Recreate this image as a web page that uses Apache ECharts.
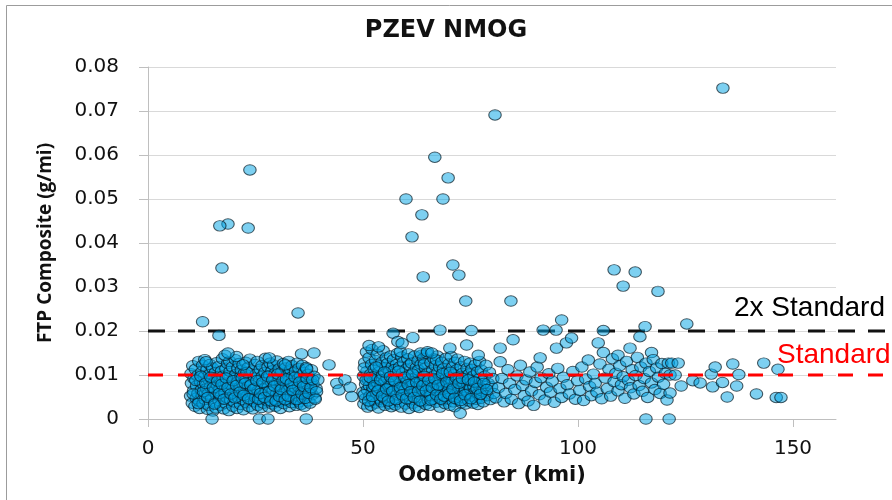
<!DOCTYPE html>
<html><head><meta charset="utf-8">
<script src="https://cdn.jsdelivr.net/npm/echarts@6/dist/echarts.min.js"></script>
<style>html,body{margin:0;padding:0;background:#fff}#c{width:892px;height:500px}</style>
</head><body><div id="c"></div>
<script>
// ---- data ----
const titleText = 'PZEV NMOG';
const xAxisName = 'Odometer (kmi)';
const yAxisName = 'FTP Composite (g/mi)';
const xTickValues = [0, 50, 100, 150];
const STANDARD = 0.01;
const TWO_X_STANDARD = 0.02;

// dense cluster ~10-39 kmi  [odometer kmi, NMOG g/mi]
const clusterLowMileage = [
 [9.9,0.0052],[10.1,0.0081],[10.3,0.0036],[10.0,0.0103],[10.6,0.0064],[10.4,0.0121],[10.9,0.0029],[10.7,0.0092],[11.2,0.0047],[11.0,0.0113],[11.3,0.0075],
 [11.6,0.0058],[11.8,0.0131],[11.5,0.0098],[12.0,0.0024],[12.2,0.0084],[11.9,0.0041],[12.5,0.0107],[12.4,0.0066],[12.8,0.0035],[12.7,0.0122],[12.9,0.0079],[12.6,0.0053],
 [13.1,0.0096],[13.3,0.0044],[13.2,0.0135],[13.6,0.0069],[13.8,0.0022],[13.7,0.0112],[14.0,0.0057],[14.2,0.0088],[14.1,0.0031],[14.4,0.0124],[14.5,0.0073],[14.3,0.0101],
 [14.8,0.0047],[14.9,0.0091],[15.1,0.0018],[15.0,0.0116],[15.4,0.0062],[15.3,0.0083],[15.6,0.0038],[15.7,0.0106],[15.9,0.0128],[16.0,0.0054],[16.1,0.0077],[15.8,0.0025],
 [16.3,0.0095],[16.5,0.0042],[16.4,0.0119],[16.7,0.0068],[16.9,0.0031],[16.8,0.0086],[17.1,0.0109],[17.0,0.0052],[17.3,0.0137],[17.5,0.0074],[17.6,0.0023],[17.4,0.0097],
 [17.9,0.0059],[18.1,0.0114],[18.0,0.0036],[18.3,0.0082],[18.5,0.0126],[18.4,0.0048],[18.7,0.0099],[18.9,0.0067],[18.8,0.0019],[19.1,0.0108],[19.2,0.0043],[19.0,0.0131],
 [19.5,0.0076],[19.7,0.0029],[19.6,0.0118],[19.9,0.0055],[20.1,0.0092],[20.0,0.0039],[20.3,0.0135],[20.5,0.0063],[20.4,0.0101],[20.7,0.0024],[20.8,0.0084],[20.9,0.0115],
 [21.1,0.0047],[21.3,0.0072],[21.2,0.0126],[21.5,0.0033],[21.6,0.0096],[21.8,0.0058],[21.7,0.0111],[22.0,0.0081],[22.2,0.0021],[22.1,0.0044],[22.4,0.0104],[22.5,0.0066],
 [22.7,0.0129],[22.9,0.0037],[22.8,0.0089],[23.1,0.0052],[23.3,0.0117],[23.2,0.0074],[23.5,0.0028],[23.6,0.0098],[23.8,0.0061],[23.7,0.0136],[24.0,0.0043],[24.1,0.0082],
 [24.3,0.0109],[24.5,0.0057],[24.4,0.0023],[24.7,0.0093],[24.9,0.0124],[24.8,0.0039],[25.1,0.0071],[25.2,0.0102],[25.0,0.0049],[25.4,0.0131],[25.6,0.0064],[25.5,0.0031],
 [25.9,0.0087],[26.1,0.0113],[26.0,0.0046],[26.3,0.0069],[26.4,0.0026],[26.6,0.0097],[26.5,0.0121],[26.8,0.0055],[27.0,0.0079],[26.9,0.0036],[27.2,0.0106],[27.3,0.0138],
 [27.5,0.0062],[27.7,0.0041],[27.6,0.0091],[27.9,0.0118],[28.1,0.0027],[28.0,0.0073],[28.3,0.0099],[28.5,0.0052],[28.4,0.0127],[28.7,0.0084],[28.9,0.0034],[28.8,0.0109],
 [29.1,0.0066],[29.3,0.0045],[29.2,0.0123],[29.5,0.0088],[29.7,0.0029],[29.6,0.0104],[29.9,0.0057],[30.1,0.0078],[30.0,0.0132],[30.3,0.0039],[30.4,0.0095],[30.5,0.0114],
 [30.7,0.0061],[30.9,0.0083],[30.8,0.0024],[31.1,0.0107],[31.3,0.0048],[31.2,0.0071],[31.5,0.0126],[31.6,0.0035],[31.8,0.0092],[31.7,0.0058],[32.0,0.0116],[32.1,0.0076],
 [32.3,0.0042],[32.5,0.0101],[32.4,0.0064],[32.7,0.0131],[32.9,0.0028],[32.8,0.0087],[33.1,0.0053],[33.2,0.0112],[33.0,0.0074],[33.4,0.0037],[33.6,0.0096],[33.5,0.0121],
 [33.9,0.0059],[34.1,0.0082],[34.0,0.0045],[34.3,0.0108],[34.5,0.0031],[34.4,0.0068],[34.7,0.0127],[34.9,0.0091],[34.8,0.0052],[35.1,0.0115],[35.2,0.0039],[35.0,0.0074],
 [35.5,0.0098],[35.7,0.0061],[35.6,0.0033],[35.9,0.0122],[36.1,0.0085],[36.0,0.0047],[36.3,0.0106],[36.5,0.0069],[36.4,0.0029],[36.7,0.0093],[36.9,0.0054],[36.8,0.0117],
 [37.1,0.0078],[37.3,0.0041],[37.2,0.0101],[37.6,0.0063],[37.8,0.0088],[37.7,0.0036],[38.0,0.0112],[38.2,0.0055],[38.4,0.0079],[38.6,0.0097],[38.8,0.0048],[39.1,0.0069]
];

// overlapping readings in the core of the low-mileage cluster
const clusterLowMileageCore = [
 [10.5,0.0057],[11.1,0.0088],[11.7,0.0035],[12.3,0.0097],[12.9,0.0062],[13.4,0.0081],[13.9,0.0049],[14.6,0.0095],
 [15.2,0.0071],[15.5,0.0034],[16.2,0.0086],[16.6,0.0058],[17.2,0.0079],[17.7,0.0045],[18.2,0.0093],[18.6,0.0071],
 [19.3,0.0057],[19.8,0.0087],[20.2,0.0048],[20.6,0.0076],[21.4,0.0061],[21.9,0.0093],[22.3,0.0054],[22.6,0.0081],
 [23.0,0.0106],[23.4,0.0046],[23.9,0.0077],[24.6,0.0068],[25.3,0.0087],[25.7,0.0045],[26.2,0.0058],[26.7,0.0083],
 [27.1,0.0049],[27.8,0.0097],[28.2,0.0062],[28.6,0.0041],[29.0,0.0089],[29.4,0.0075],[29.8,0.0041],[30.2,0.0102],
 [30.6,0.0051],[31.0,0.0067],[31.4,0.0087],[31.9,0.0044],[32.2,0.0091],[32.6,0.0052],[33.3,0.0081],[33.7,0.0065],
 [34.2,0.0095],[34.6,0.0044],[35.3,0.0084],[35.8,0.0057],[36.2,0.0074],[36.6,0.0047],[37.0,0.0092],[37.4,0.0058],
 [37.9,0.0071],[38.3,0.0089]
];

// dense cluster ~50-80 kmi
const clusterMidMileage = [
 [50.0,0.0061],[50.2,0.0034],[50.1,0.0097],[50.4,0.0128],[50.6,0.0079],[50.5,0.0046],[50.8,0.0152],[50.9,0.0108],[51.1,0.0027],[51.0,0.0066],[51.2,0.0089],[50.3,0.0116],
 [51.4,0.0139],[51.6,0.0052],[51.5,0.0075],[51.8,0.0102],[51.9,0.0031],[52.0,0.0124],[52.2,0.0063],[52.1,0.0158],[52.4,0.0087],[52.5,0.0043],[52.6,0.0113],[52.3,0.0071],
 [52.8,0.0098],[53.0,0.0036],[52.9,0.0133],[53.2,0.0059],[53.4,0.0082],[53.3,0.0147],[53.6,0.0025],[53.7,0.0107],[53.9,0.0068],[53.8,0.0121],[54.0,0.0045],[53.5,0.0091],
 [54.2,0.0076],[54.4,0.0129],[54.3,0.0039],[54.6,0.0101],[54.8,0.0058],[54.7,0.0155],[55.0,0.0084],[55.1,0.0031],[55.3,0.0117],[55.2,0.0065],[55.4,0.0139],[54.9,0.0048],
 [55.6,0.0093],[55.8,0.0052],[55.7,0.0126],[56.0,0.0074],[56.2,0.0035],[56.1,0.0109],[56.4,0.0143],[56.5,0.0061],[56.7,0.0088],[56.6,0.0028],[56.8,0.0119],[56.3,0.0079],
 [57.0,0.0046],[57.2,0.0101],[57.1,0.0135],[57.4,0.0067],[57.6,0.0083],[57.5,0.0032],[57.8,0.0124],[57.9,0.0055],[58.1,0.0096],[58.0,0.0149],[58.2,0.0071],[57.3,0.0112],
 [58.4,0.0039],[58.6,0.0087],[58.5,0.0118],[58.8,0.0062],[59.0,0.0141],[58.9,0.0027],[59.2,0.0104],[59.3,0.0076],[59.5,0.0049],[59.4,0.0129],[59.6,0.0092],[58.7,0.0153],
 [59.8,0.0066],[60.0,0.0113],[59.9,0.0034],[60.2,0.0085],[60.4,0.0137],[60.3,0.0053],[60.6,0.0099],[60.7,0.0024],[60.9,0.0072],[60.8,0.0122],[61.0,0.0044],[60.5,0.0148],
 [61.2,0.0091],[61.4,0.0058],[61.3,0.0127],[61.6,0.0036],[61.8,0.0107],[61.7,0.0079],[62.0,0.0143],[62.1,0.0063],[62.3,0.0095],[62.2,0.0029],[62.4,0.0117],[61.5,0.0084],
 [62.6,0.0047],[62.8,0.0132],[62.7,0.0074],[63.0,0.0103],[63.2,0.0056],[63.1,0.0026],[63.4,0.0088],[63.5,0.0124],[63.7,0.0068],[63.6,0.0145],[63.8,0.0039],[62.9,0.0111],
 [64.0,0.0097],[64.2,0.0061],[64.1,0.0138],[64.4,0.0082],[64.6,0.0033],[64.5,0.0116],[64.8,0.0052],[64.9,0.0149],[65.1,0.0076],[65.0,0.0104],[65.2,0.0042],[64.3,0.0125],
 [65.4,0.0069],[65.6,0.0093],[65.5,0.0031],[65.8,0.0128],[66.0,0.0057],[65.9,0.0084],[66.2,0.0111],[66.3,0.0045],[66.5,0.0137],[66.4,0.0072],[66.6,0.0098],[65.7,0.0053],
 [66.8,0.0121],[67.0,0.0038],[66.9,0.0081],[67.2,0.0064],[67.4,0.0106],[67.3,0.0143],[67.6,0.0049],[67.7,0.0092],[67.9,0.0027],[67.8,0.0118],[68.0,0.0071],[67.1,0.0134],
 [68.2,0.0056],[68.4,0.0099],[68.3,0.0129],[68.6,0.0043],[68.8,0.0082],[68.7,0.0114],[69.0,0.0067],[69.1,0.0035],[69.3,0.0138],[69.2,0.0091],[69.4,0.0059],[68.5,0.0075],
 [69.6,0.0108],[69.8,0.0046],[69.7,0.0078],[70.0,0.0125],[70.2,0.0031],[70.1,0.0094],[70.4,0.0061],[70.5,0.0142],[70.7,0.0085],[70.6,0.0052],[70.8,0.0117],[69.9,0.0069],
 [71.0,0.0039],[71.2,0.0101],[71.1,0.0073],[71.4,0.0129],[71.6,0.0057],[71.5,0.0088],[71.8,0.0112],[71.9,0.0044],[72.1,0.0076],[72.0,0.0136],[72.2,0.0063],[71.3,0.0028],
 [72.4,0.0095],[72.6,0.0013],[72.5,0.0054],[72.8,0.0119],[73.0,0.0071],[72.9,0.0037],[73.2,0.0104],[73.3,0.0083],[73.5,0.0048],[73.6,0.0131],
 [73.8,0.0066],[74.0,0.0091],[73.9,0.0034],[74.2,0.0115],[74.4,0.0058],[74.3,0.0079],[74.6,0.0041],[74.7,0.0102],[74.9,0.0127],[75.0,0.0069],
 [75.2,0.0087],[75.4,0.0052],[75.3,0.0113],[75.6,0.0036],[75.8,0.0074],[75.7,0.0098],[76.0,0.0061],[76.1,0.0123],[76.3,0.0045],[76.4,0.0083],
 [76.6,0.0107],[76.8,0.0058],[76.7,0.0033],[77.0,0.0091],[77.2,0.0072],[77.1,0.0131],[77.4,0.0047],[77.5,0.0111],[77.7,0.0064],[77.8,0.0086],
 [78.0,0.0039],[78.3,0.0097],[78.2,0.0068],[78.6,0.0122],[78.9,0.0053],[79.1,0.0081],[79.4,0.0106],[79.6,0.0044],[79.9,0.0073],[80.2,0.0092],[80.4,0.0058]
];

// overlapping readings in the core of the mid-mileage cluster
const clusterMidMileageCore = [
 [50.3,0.0055],[50.7,0.0088],[51.3,0.0041],[51.7,0.0094],[52.2,0.0051],[52.7,0.0076],[53.1,0.0118],[53.5,0.0064],
 [54.1,0.0089],[54.5,0.0052],[55.0,0.0107],[55.5,0.0068],[55.9,0.0041],[56.4,0.0096],[56.9,0.0063],[57.3,0.0087],
 [57.7,0.0044],[58.3,0.0109],[58.7,0.0071],[59.1,0.0055],[59.7,0.0095],[60.1,0.0046],[60.5,0.0078],[61.1,0.0062],
 [61.5,0.0102],[61.9,0.0049],[62.5,0.0083],[62.9,0.0063],[63.3,0.0041],[63.9,0.0076],[64.3,0.0097],[64.7,0.0064],
 [65.3,0.0088],[65.8,0.0043],[66.1,0.0071],[66.7,0.0091],[67.1,0.0055],[67.5,0.0077],[68.1,0.0045],[68.5,0.0103],
 [68.9,0.0052],[69.5,0.0084],[70.0,0.0057],[70.3,0.0106],[70.9,0.0068],[71.3,0.0047],[71.7,0.0093],[72.3,0.0081],
 [72.7,0.0042],[73.1,0.0092],[73.7,0.0055],[74.5,0.0089],[75.1,0.0046],[75.9,0.0084],[76.5,0.0069],[77.3,0.0056],
 [78.1,0.0081],[78.8,0.0067]
];

// fringe points and zero readings around the low-mileage cluster (incl. 38-50 kmi)
const lowMileageFringe = [
 [13.5,0.0130],[17.9,0.0145],[20.6,0.0142],[22.1,0.0123],[28.2,0.0139],[31.9,0.0123],
 [35.7,0.0148],[36.9,0.0114],[18.6,0.0150],[16.5,0.0190],[12.7,0.0221],[34.9,0.0241],
 [14.9,0.0000],[25.9,0.0000],[27.9,0.0000],[36.8,0.0000],
 [39.5,0.0089],[39.2,0.0062],[38.9,0.0045],[38.6,0.0150],[42.1,0.0123],[43.9,0.0081],[44.4,0.0066],
 [45.8,0.0089],[47.0,0.0072],[47.4,0.0051]
];

// fringe points around the mid-mileage cluster
const midMileageFringe = [
 [51.4,0.0167],[53.6,0.0164],[57.0,0.0195],[58.1,0.0176],[59.1,0.0172],[61.6,0.0185],
 [63.4,0.0150],[65.0,0.0153],[67.9,0.0202],[75.2,0.0201],[74.1,0.0168],[76.8,0.0145],
 [70.2,0.0161],[66.0,0.0150]
];

// 80-125 kmi
const highMileagePoints = [
 [80.9,0.0048],[81.5,0.0071],[81.9,0.0130],[81.9,0.0161],[82.3,0.0092],[82.8,0.0039],[83.2,0.0058],
 [83.7,0.0112],[84.1,0.0081],[84.5,0.0045],[84.9,0.0180],[85.3,0.0067],[85.8,0.0098],
 [86.2,0.0035],[86.6,0.0122],[87.1,0.0076],[87.5,0.0053],[87.9,0.0089],[88.4,0.0041],
 [88.8,0.0107],[89.2,0.0064],[89.7,0.0031],[90.1,0.0083],[90.5,0.0118],[91.0,0.0055],
 [91.2,0.0139],[91.4,0.0094],[91.9,0.0202],[92.3,0.0043],[92.7,0.0072],[93.2,0.0103],
 [93.6,0.0061],[94.0,0.0086],[94.5,0.0038],[94.9,0.0202],[95.0,0.0161],[95.3,0.0115],
 [95.8,0.0069],[96.2,0.0225],[96.2,0.0049],[96.6,0.0095],[97.3,0.0173],[97.5,0.0078],
 [98.5,0.0184],[98.0,0.0057],[98.8,0.0108],[99.4,0.0045],[99.9,0.0087],
 [100.4,0.0065],[100.9,0.0118],[101.3,0.0042],[101.8,0.0091],[102.4,0.0134],[102.7,0.0074],
 [103.1,0.0053],[103.6,0.0102],[104.0,0.0081],[104.4,0.0061],[104.7,0.0173],[105.1,0.0125],
 [105.5,0.0046],[105.9,0.0151],[105.9,0.0201],[106.3,0.0093],[106.8,0.0069],[107.2,0.0113],
 [107.6,0.0052],[108.0,0.0137],[108.4,0.0085],[108.8,0.0104],[109.3,0.0145],[109.3,0.0064],
 [109.7,0.0121],[110.1,0.0078],[110.5,0.0096],[110.9,0.0047],[111.3,0.0131],[111.7,0.0088],
 [112.1,0.0161],[112.2,0.0071],[112.6,0.0112],[113.0,0.0057],[113.4,0.0099],[113.8,0.0140],
 [114.2,0.0076],[114.4,0.0187],[114.6,0.0118],[115.0,0.0063],[115.4,0.0092],[115.6,0.0210],
 [115.8,0.0127],[116.2,0.0049],[116.6,0.0108],[117.1,0.0151],[117.1,0.0082],[117.5,0.0135],
 [117.9,0.0067],[118.3,0.0116],[118.7,0.0095],[119.1,0.0058],[119.5,0.0126],[119.9,0.0079],
 [120.3,0.0104],[120.7,0.0043],[121.0,0.0127],[121.4,0.0100],[121.4,0.0059],[121.8,0.0127],
 [122.6,0.0100],[123.3,0.0127],[124.0,0.0075],
 [115.8,0.0000],[121.2,0.0000]
];

// beyond 125 kmi
const veryHighMileagePoints = [
 [125.3,0.0216],[126.7,0.0087],[128.4,0.0082],[131.0,0.0102],[131.3,0.0073],[131.9,0.0118],
 [133.6,0.0083],[134.7,0.0050],[136.0,0.0125],[136.9,0.0075],[137.4,0.0101],[141.5,0.0057],
 [143.2,0.0127],[146.5,0.0113],[146.1,0.0049],[147.2,0.0049]
];

// high emitters (well above 2x standard)
const highEmitters = [
 [23.7,0.0566],[18.6,0.0443],[16.7,0.0439],[23.3,0.0434],[17.2,0.0343],
 [80.7,0.0691],[66.7,0.0595],[69.8,0.0548],[60.0,0.0500],[68.6,0.0500],[63.7,0.0464],
 [61.4,0.0414],[70.9,0.0350],[72.3,0.0327],[64.0,0.0323],[73.9,0.0268],[84.4,0.0268],
 [108.4,0.0339],[113.3,0.0334],[110.5,0.0302],[118.6,0.0290],[133.7,0.0752]
];

// ---- build ----
const allPoints = [].concat(
  clusterLowMileage, clusterLowMileageCore, clusterMidMileage, clusterMidMileageCore,
  lowMileageFringe, midMileageFringe, highMileagePoints, veryHighMileagePoints, highEmitters
);

const chart = echarts.init(document.getElementById('c'), null, {renderer: 'canvas'});
const tickFont = '"DejaVu Sans", sans-serif';
const ellipse = 'path://M0,5A6,5 0 1,0 12,5A6,5 0 1,0 0,5Z';

chart.setOption({
  animation: false,
  backgroundColor: '#fff',
  title: {
    text: titleText, left: 'center', top: 19, padding: 0,
    textStyle: {fontFamily: '"DejaVu Sans", sans-serif', fontWeight: 'bold', fontSize: 24, color: '#111'}
  },
  grid: [
    {left: 148, top: 67, width: 688, height: 352, containLabel: false, outerBoundsMode: 'none'},
    {left: 148, top: 67, right: 0, height: 352, containLabel: false, outerBoundsMode: 'none'}
  ],
  xAxis: [{
    type: 'value', gridIndex: 0, min: 0, max: 160, interval: 50,
    name: xAxisName, nameLocation: 'middle', nameGap: 46,
    nameTextStyle: {fontFamily: '"DejaVu Sans", sans-serif', fontWeight: 'bold', fontSize: 21, color: '#111'},
    axisLine: {show: true, lineStyle: {color: '#bfbfbf', width: 1}},
    axisTick: {show: true, length: 8, customValues: xTickValues, lineStyle: {color: '#bfbfbf'}},
    axisLabel: {customValues: xTickValues, margin: 20, fontFamily: tickFont, fontSize: 20, color: '#111'},
    splitLine: {show: false}
  }, {
    type: 'value', gridIndex: 1, min: 0, max: 1, show: false
  }],
  yAxis: [{
    type: 'value', gridIndex: 0, min: 0, max: 0.08, interval: 0.01,
    name: yAxisName, nameLocation: 'middle', nameGap: 93, nameRotate: 90,
    nameTextStyle: {fontFamily: '"Open Sans", sans-serif', fontWeight: 'bold', fontSize: 19, color: '#111'},
    axisLine: {show: true, lineStyle: {color: '#bfbfbf', width: 1}},
    axisTick: {show: true, length: 9, lineStyle: {color: '#bfbfbf'}},
    axisLabel: {margin: 29, fontFamily: tickFont, fontSize: 20, color: '#111',
      formatter: v => v === 0 ? '0' : v.toFixed(2)},
    splitLine: {show: true, lineStyle: {color: '#d9d9d9', width: 1}}
  }, {
    type: 'value', gridIndex: 1, min: 0, max: 0.08, show: false
  }],
  series: [
    {
      type: 'line', xAxisIndex: 1, yAxisIndex: 1, z: 1, symbol: 'none', silent: true,
      data: [[0, TWO_X_STANDARD], [1, TWO_X_STANDARD]],
      lineStyle: {color: '#111', width: 3, type: [17, 13]}
    },
    {
      type: 'scatter', xAxisIndex: 0, yAxisIndex: 0, z: 2,
      symbol: ellipse, symbolKeepAspect: false, symbolSize: [12.5, 10.5],
      data: allPoints,
      itemStyle: {color: 'rgba(0,162,228,0.64)', borderColor: 'rgba(10,28,38,0.9)', borderWidth: 1}
    },
    {
      type: 'line', xAxisIndex: 1, yAxisIndex: 1, z: 3, symbol: 'none', silent: true,
      data: [[0, STANDARD], [1, STANDARD]],
      lineStyle: {color: '#ff0000', width: 3, type: [15, 15]}
    }
  ],
  graphic: [
    {type: 'rect', z: 0, silent: true, shape: {x: 6.5, y: 5.5, width: 900, height: 520},
      style: {fill: 'none', stroke: '#9c9c9c', lineWidth: 1}},
    {type: 'text', z: 10, right: 7, top: 294,
      style: {text: '2x Standard', font: '28px "Liberation Sans", Arial, sans-serif', fill: '#000'}},
    {type: 'text', z: 10, left: 777, top: 341,
      style: {text: 'Standard', font: '28px "Liberation Sans", Arial, sans-serif', fill: '#ff0000'}}
  ]
});
</script>
</body></html>
